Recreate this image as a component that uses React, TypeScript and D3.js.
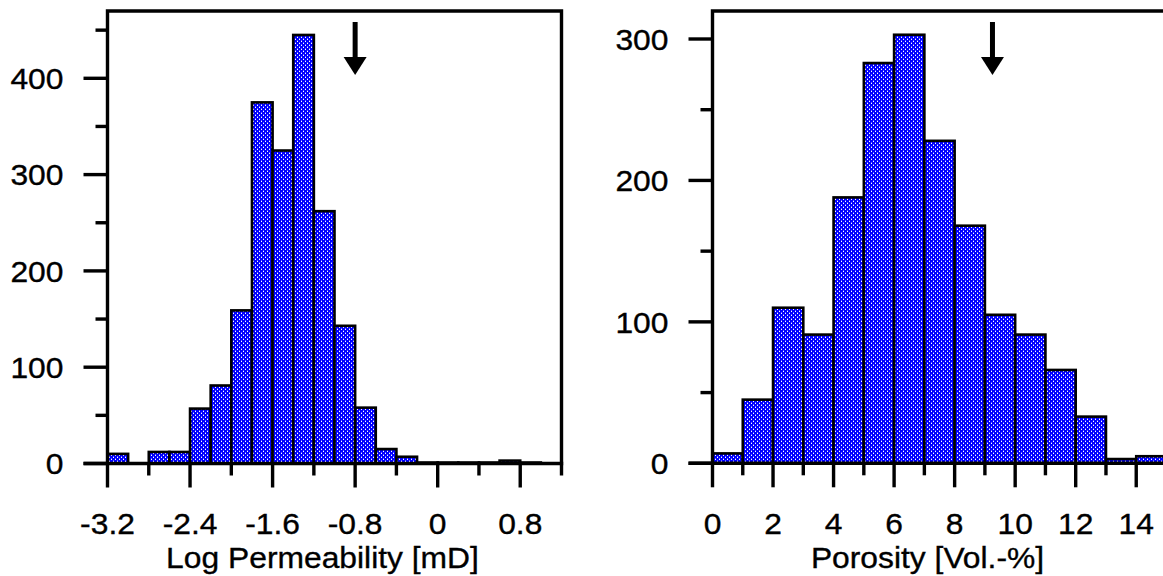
import React from "react";
import * as d3 from "d3";

// Log permeability histogram (bin width 0.2)
const permBinStarts = [-3.2, -3.0, -2.8, -2.6, -2.4, -2.2, -2.0, -1.8, -1.6, -1.4, -1.2, -1.0, -0.8, -0.6, -0.4, -0.2, 0.0, 0.2, 0.4, 0.6, 0.8, 1.0];
const permCounts = [10, 0, 12, 12, 57, 81, 159, 375, 325, 445, 262, 143, 58, 15, 7, 1, 1, 1, 1, 3, 1, 0];
const permBinWidth = 0.2;
const permMajorX = [-3.2, -2.4, -1.6, -0.8, 0, 0.8];
const permMinorX = [-2.8, -2.0, -1.2, -0.4, 0.4, 1.2];
const permMajorY = [0, 100, 200, 300, 400];
const permMinorY = [50, 150, 250, 350, 450];
const permArrow = -0.8;

// Porosity histogram (bin width 1)
const poroBinStarts = [0, 1, 2, 3, 4, 5, 6, 7, 8, 9, 10, 11, 12, 13, 14];
const poroCounts = [7, 45, 110, 91, 188, 283, 303, 228, 168, 105, 91, 66, 33, 3, 5];
const poroBinWidth = 1;
const poroMajorX = [0, 2, 4, 6, 8, 10, 12, 14];
const poroMinorX = [1, 3, 5, 7, 9, 11, 13, 15];
const poroMajorY = [0, 100, 200, 300];
const poroMinorY = [50, 150, 250];
const poroArrow = 9.25;

const FONT = "'Liberation Sans', Arial, Helvetica, sans-serif";
const FS = 30;
const SX = 1.06;

type PanelProps = {
  x: d3.ScaleLinear<number, number>;
  y: d3.ScaleLinear<number, number>;
  top: number;
  starts: number[];
  counts: number[];
  binWidth: number;
  majorX: number[];
  minorX: number[];
  majorY: number[];
  minorY: number[];
  arrow: number;
  title: string;
  titleOffset: number;
  fmt: (v: number) => string;
};

function Label({ x, y, anchor, children }: { x: number; y: number; anchor: string; children: React.ReactNode }) {
  return (
    <text
      transform={`translate(${x},${y}) scale(${SX},1)`}
      textAnchor={anchor}
      fontFamily={FONT}
      fontSize={FS}
      fill="#000"
      stroke="#000"
      strokeWidth={0.35}
    >
      {children}
    </text>
  );
}

function Panel(p: PanelProps) {
  const [x0, x1] = p.x.range();
  const base = p.y(0);
  const major = 24;
  const minor = 12;
  const sw = 3.4;
  const ax = p.x(p.arrow);
  return (
    <g>
      {/* bars */}
      {p.starts.map((s, i) =>
        p.counts[i] > 0 ? (
          <rect
            key={i}
            x={p.x(s)}
            y={p.y(p.counts[i])}
            width={p.x(s + p.binWidth) - p.x(s)}
            height={base - p.y(p.counts[i])}
            fill="url(#hatch)"
            stroke="#000"
            strokeWidth={2.6}
          />
        ) : null
      )}
      {/* frame */}
      <path
        d={`M${x0},${base} L${x0},${p.top} L${x1},${p.top} L${x1},${base}`}
        fill="none"
        stroke="#000"
        strokeWidth={sw}
        strokeLinejoin="miter"
      />
      <line x1={x0 - major} x2={x1 + sw / 2} y1={base} y2={base} stroke="#000" strokeWidth={sw} />
      {/* y ticks */}
      {p.majorY.map((v) => (
        <g key={"my" + v}>
          <line x1={x0 - major} x2={x0} y1={p.y(v)} y2={p.y(v)} stroke="#000" strokeWidth={sw} />
          <Label x={x0 - 44} y={p.y(v) + 10.8} anchor="end">{String(v)}</Label>
        </g>
      ))}
      {p.minorY.map((v) => (
        <line key={"ny" + v} x1={x0 - minor} x2={x0} y1={p.y(v)} y2={p.y(v)} stroke="#000" strokeWidth={sw} />
      ))}
      {/* x ticks */}
      {p.majorX.map((v) => (
        <g key={"mx" + v}>
          <line x1={p.x(v)} x2={p.x(v)} y1={base} y2={base + major} stroke="#000" strokeWidth={sw} />
          <Label x={p.x(v)} y={534} anchor="middle">{p.fmt(v)}</Label>
        </g>
      ))}
      {p.minorX.map((v) => (
        <line key={"nx" + v} x1={p.x(v)} x2={p.x(v)} y1={base} y2={base + minor} stroke="#000" strokeWidth={sw} />
      ))}
      {/* axis title */}
      <Label x={(x0 + x1) / 2 + p.titleOffset} y={568} anchor="middle">{p.title}</Label>
      {/* mean marker arrow */}
      <line x1={ax} x2={ax} y1={22} y2={60} stroke="#000" strokeWidth={5} />
      <path d={`M${ax - 11.5},${57} L${ax + 11.5},${57} L${ax},${75} Z`} fill="#000" />
    </g>
  );
}

export default function App() {
  const permX = d3.scaleLinear().domain([-3.2, 1.2]).range([107.5, 561.5]);
  const permY = d3.scaleLinear().domain([0, 400]).range([463.5, 78.3]);
  const poroX = d3.scaleLinear().domain([0, 15]).range([712.5, 1166.5]);
  const poroY = d3.scaleLinear().domain([0, 300]).range([463.3, 39]);

  const fmtPerm = (v: number) => (v === 0 ? "0" : d3.format(".1f")(v).replace("−", "-"));
  const fmtPoro = (v: number) => String(v);

  return (
    <svg
      width={1163}
      height={576}
      style={{ position: "absolute", left: 0, top: 0, background: "#fff" }}
    >
      <defs>
        <pattern id="hatch" patternUnits="userSpaceOnUse" width={4} height={4}>
          <rect width={4} height={4} fill="#0000ff" />
          <rect x={1} y={1} width={1} height={1} fill="#ffffff" />
          <rect x={3} y={3} width={1} height={1} fill="#ffffff" />
          <rect x={1} y={0} width={1} height={0.5} fill="#c8c8ff" />
          <rect x={3} y={2} width={1} height={0.5} fill="#c8c8ff" />
        </pattern>
      </defs>
      <rect width={1163} height={576} fill="#fff" />
      <Panel
        x={permX}
        y={permY}
        top={11}
        starts={permBinStarts}
        counts={permCounts}
        binWidth={permBinWidth}
        majorX={permMajorX}
        minorX={permMinorX}
        majorY={permMajorY}
        minorY={permMinorY}
        arrow={permArrow}
        title="Log Permeability [mD]"
        titleOffset={-12}
        fmt={fmtPerm}
      />
      <Panel
        x={poroX}
        y={poroY}
        top={11}
        starts={poroBinStarts}
        counts={poroCounts}
        binWidth={poroBinWidth}
        majorX={poroMajorX}
        minorX={poroMinorX}
        majorY={poroMajorY}
        minorY={poroMinorY}
        arrow={poroArrow}
        title="Porosity [Vol.-%]"
        titleOffset={-12}
        fmt={fmtPoro}
      />
    </svg>
  );
}
